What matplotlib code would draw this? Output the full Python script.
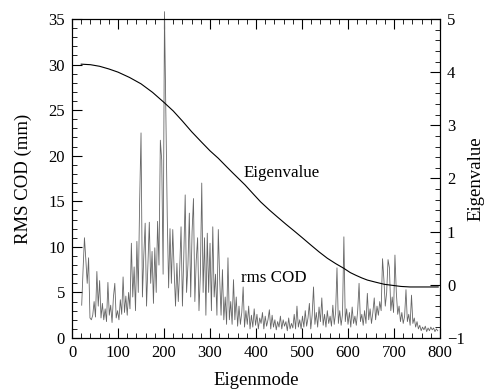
import numpy as np
import matplotlib
matplotlib.use('Agg')
import matplotlib.pyplot as plt
from matplotlib.ticker import MultipleLocator

plt.rcParams['font.family'] = 'Liberation Serif'

# rms COD, read every 3 eigenmodes from mode 21 to 795
cod_modes = np.arange(21, 796, 3)
cod_vals = [
    3.6, 7.5, 11.0, 8.6, 6.0, 8.8, 2.2, 2.0, 2.5, 4.0,
    2.3, 7.3, 3.5, 6.3, 2.2, 3.8, 2.0, 3.2, 1.8, 6.1,
    2.5, 3.6, 1.7, 4.5, 6.0, 2.2, 3.0, 2.0, 4.2, 2.6,
    6.7, 2.8, 4.6, 2.5, 5.0, 3.2, 10.4, 4.5, 7.8, 3.0,
    10.6, 5.0, 15.0, 22.5, 4.5, 9.0, 12.6, 3.5, 8.0, 12.7,
    6.0, 9.5, 3.8, 9.9, 5.0, 12.8, 8.0, 21.7, 19.5, 7.0,
    35.8, 24.8, 13.3, 5.5, 12.0, 6.0, 11.9, 7.4, 3.5, 8.2,
    4.0, 7.5, 12.2, 3.5, 9.0, 15.7, 5.0, 8.0, 13.7, 4.5,
    11.7, 15.3, 4.0, 8.5, 11.0, 3.0, 7.0, 17.0, 5.0, 11.0,
    2.5, 11.5, 5.0, 10.4, 3.0, 12.2, 4.5, 7.0, 2.5, 11.9,
    6.5, 2.5, 7.5, 2.0, 4.5, 1.5, 8.8, 2.0, 4.0, 1.5,
    6.4, 2.0, 4.5, 1.3, 3.5, 1.5, 2.8, 5.6, 1.2, 3.0,
    1.5, 3.5, 1.0, 2.5, 1.2, 3.2, 1.4, 2.6, 1.0, 2.2,
    1.6, 2.8, 1.0, 2.4, 1.3, 2.0, 3.1, 1.0, 2.5, 1.2,
    2.0, 0.9, 1.8, 1.2, 2.4, 1.0, 2.0, 1.3, 1.8, 0.8,
    2.2, 1.0, 1.6, 1.1, 2.6, 1.0, 3.5, 1.2, 2.0, 1.0,
    2.4, 1.2, 3.0, 1.3, 2.2, 3.8, 1.0, 2.5, 5.6, 1.5,
    2.8, 1.2, 3.4, 1.8, 4.4, 1.4, 2.6, 1.2, 3.0, 1.6,
    2.4, 1.3, 3.6, 1.5, 2.8, 7.7, 1.6, 3.0, 1.4, 2.6,
    11.1, 1.8, 3.2, 1.5, 2.8, 1.2, 3.4, 1.6, 2.4, 1.4,
    3.0, 6.0, 1.8, 2.6, 1.4, 3.0, 1.6, 4.9, 2.0, 3.2,
    1.6, 2.8, 4.4, 2.0, 3.5, 2.5, 4.0, 3.0, 8.7, 6.4,
    3.5, 5.0, 8.6, 7.7, 3.0, 4.5, 2.8, 9.1, 5.0, 2.6,
    3.5, 1.8, 2.8, 1.6, 2.4, 5.3, 1.8, 2.6, 1.4, 4.7,
    1.6, 2.2, 1.2, 1.8, 1.0, 1.4, 0.8, 1.2, 0.9, 1.3,
    0.7, 1.1, 0.8, 1.2, 0.9, 1.1, 0.7, 1.0, 0.8,
]

# eigenvalue curve
eig_modes = [20, 40, 60, 80, 100, 125, 150, 175, 200, 220, 240, 260, 282,
             300, 318, 335, 350, 376, 395, 410, 430, 446, 465, 482, 500,
             519, 537, 555, 573, 591, 605, 617, 630, 642, 660, 679, 697,
             715, 735, 751, 775, 796]
eig_vals = [4.15, 4.14, 4.11, 4.06, 4.00, 3.90, 3.78, 3.62, 3.43, 3.27, 3.08,
            2.88, 2.68, 2.52, 2.38, 2.23, 2.10, 1.88, 1.70, 1.56, 1.40, 1.28,
            1.14, 1.02, 0.89, 0.75, 0.62, 0.50, 0.40, 0.31, 0.23, 0.18, 0.13,
            0.09, 0.05, 0.01, -0.01, -0.03, -0.04, -0.04, -0.04, -0.04]

fig = plt.figure(figsize=(4.9, 3.91), dpi=100)
ax = fig.add_axes([0.147, 0.1355, 0.751, 0.816])
ax2 = ax.twinx()

ax.plot(cod_modes, cod_vals, color='#666666', lw=0.6, clip_on=False)
ax2.plot(eig_modes, eig_vals, color='black', lw=0.8)

ax.set_xlim(0, 800)
ax.set_ylim(0, 35)
ax2.set_ylim(-1, 5)

ax.xaxis.set_major_locator(MultipleLocator(100))
ax.xaxis.set_minor_locator(MultipleLocator(20))
ax.yaxis.set_major_locator(MultipleLocator(5))
ax.yaxis.set_minor_locator(MultipleLocator(1))
ax2.yaxis.set_major_locator(MultipleLocator(1))
ax2.yaxis.set_minor_locator(MultipleLocator(0.2))

ax.tick_params(which='both', direction='in', top=True, labelsize=12, pad=5)
ax.tick_params(which='major', length=7)
ax.tick_params(which='minor', length=3.5)
ax2.tick_params(which='both', direction='in', labelsize=12, pad=5)
ax2.tick_params(which='major', length=7)
ax2.tick_params(which='minor', length=3.5)

ax.set_xlabel('Eigenmode', fontsize=13.5, labelpad=8)
ax.set_ylabel('RMS COD (mm)', fontsize=13.5, labelpad=12)
ax2.set_ylabel('Eigenvalue', fontsize=13.5, labelpad=2)

ax.text(373, 18.1, 'Eigenvalue', fontsize=12.2, va='center')
ax.text(368, 6.6, 'rms COD', fontsize=12.2, va='center')

fig.savefig('out.png', dpi=100)
